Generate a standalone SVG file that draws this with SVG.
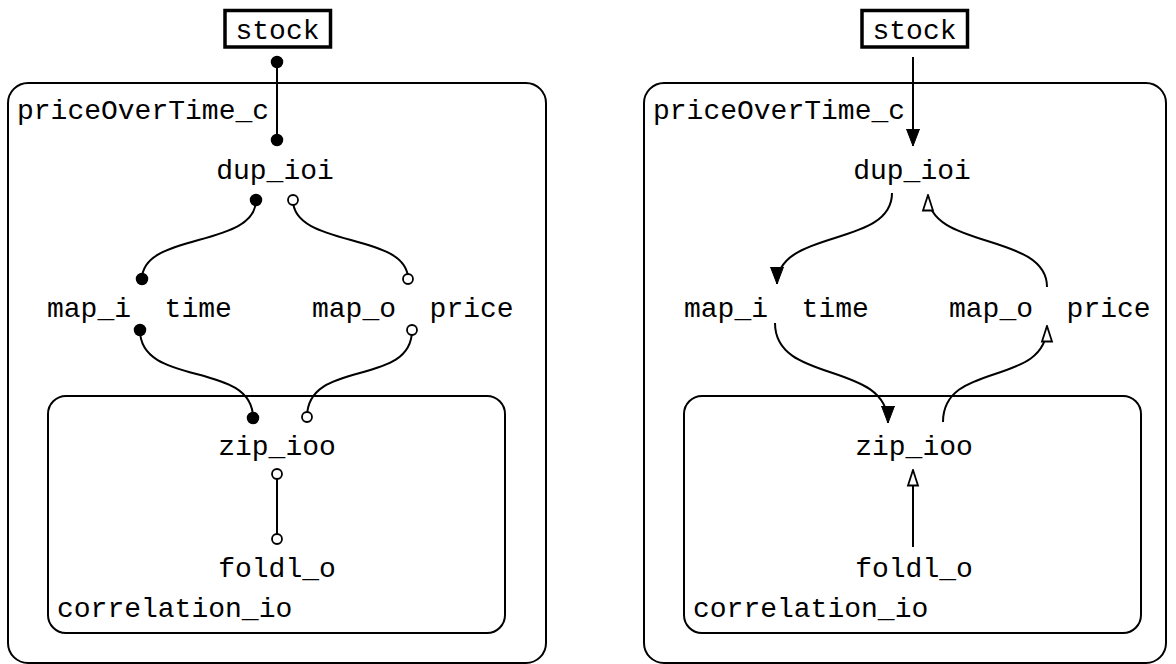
<svg xmlns="http://www.w3.org/2000/svg" width="1176" height="664" viewBox="0 0 1176 664">
<style>
text{font-family:"Liberation Mono","DejaVu Sans Mono",monospace;font-size:28px;fill:#000;white-space:pre}
.c{text-anchor:middle}
.box{fill:none;stroke:#000;stroke-width:2}
.stockbox{fill:#fff;stroke:#000;stroke-width:3.5}
.ln{fill:none;stroke:#000;stroke-width:2}
.pf{fill:#000;stroke:#000;stroke-width:1.5}
.po{fill:#fff;stroke:#000;stroke-width:1.8}
</style>
<defs>
<marker id="af" markerUnits="userSpaceOnUse" markerWidth="18" markerHeight="16" refX="17" refY="8" orient="auto" viewBox="0 0 18 16">
<path d="M0,1.5 L17,8 L0,14.5 Z" fill="#000" stroke="#000" stroke-width="1"/>
</marker>
<marker id="ao" markerUnits="userSpaceOnUse" markerWidth="18" markerHeight="16" refX="16.5" refY="8" orient="auto" viewBox="0 0 18 16">
<path d="M1,3 L16.5,8 L1,13 Z" fill="#fff" stroke="#000" stroke-width="1.8"/>
</marker>
</defs>

<!-- LEFT DIAGRAM -->
<g id="left-priceOverTime_c">
<rect class="box" x="8" y="83" width="538" height="580" rx="20" ry="20"/>
<text x="17" y="119">priceOverTime_c</text>
</g>
<g id="left-correlation_io">
<rect class="box" x="48" y="396" width="457" height="237" rx="18" ry="18"/>
<text x="57" y="617">correlation_io</text>
</g>
<g id="left-stock">
<rect class="stockbox" x="225" y="10.5" width="105.5" height="36.5"/>
<text class="c" x="277.5" y="39">stock</text>
</g>
<g id="left-dup_ioi"><text class="c" x="275" y="179">dup_ioi</text></g>
<g id="left-map_i"><text x="47" y="317">map_i  time</text></g>
<g id="left-map_o"><text x="312" y="317">map_o  price</text></g>
<g id="left-zip_ioo"><text class="c" x="277" y="455">zip_ioo</text></g>
<g id="left-foldl_o"><text class="c" x="277" y="577">foldl_o</text></g>

<g id="left-connectors">
<path class="ln" d="M277,63 L277,140"/>
<path class="ln" d="M256,200 C256,248 142,232 142,279"/>
<path class="ln" d="M293,200 C293,248 408,232 408,279"/>
<path class="ln" d="M140,330 C140,388 253,360 253,418"/>
<path class="ln" d="M412,330 C412,388 307,358 307,417"/>
<path class="ln" d="M277,474 L277,539"/>
<circle class="pf" cx="277" cy="62" r="5.5"/>
<circle class="pf" cx="277" cy="140" r="5.5"/>
<circle class="pf" cx="256" cy="200" r="5.5"/>
<circle class="po" cx="293" cy="200" r="5"/>
<circle class="pf" cx="142" cy="279" r="5.5"/>
<circle class="po" cx="408" cy="279" r="5"/>
<circle class="pf" cx="140" cy="330" r="5.5"/>
<circle class="po" cx="412" cy="330" r="5"/>
<circle class="pf" cx="253" cy="418" r="5.5"/>
<circle class="po" cx="307" cy="417" r="5"/>
<circle class="po" cx="277" cy="474" r="5"/>
<circle class="po" cx="277" cy="539" r="5"/>
</g>

<!-- RIGHT DIAGRAM -->
<g id="right-priceOverTime_c">
<rect class="box" x="644" y="83" width="522" height="580" rx="20" ry="20"/>
<text x="653" y="119">priceOverTime_c</text>
</g>
<g id="right-correlation_io">
<rect class="box" x="684" y="396" width="457" height="237" rx="18" ry="18"/>
<text x="693" y="617">correlation_io</text>
</g>
<g id="right-stock">
<rect class="stockbox" x="862" y="10.5" width="105.5" height="36.5"/>
<text class="c" x="914.5" y="39">stock</text>
</g>
<g id="right-dup_ioi"><text class="c" x="912" y="179">dup_ioi</text></g>
<g id="right-map_i"><text x="684" y="317">map_i  time</text></g>
<g id="right-map_o"><text x="949" y="317">map_o  price</text></g>
<g id="right-zip_ioo"><text class="c" x="914" y="455">zip_ioo</text></g>
<g id="right-foldl_o"><text class="c" x="914" y="577">foldl_o</text></g>

<g id="right-connectors">
<path class="ln" d="M913,57 L913,146" marker-end="url(#af)"/>
<path class="ln" d="M892,193 C892,248 777,228 777,284" marker-end="url(#af)"/>
<path class="ln" d="M1047,287 C1047,232 928,250 928,195" marker-end="url(#ao)"/>
<path class="ln" d="M775,323 C775,385 888,360 888,423" marker-end="url(#af)"/>
<path class="ln" d="M943,422 C943,360 1047,388 1047,326" marker-end="url(#ao)"/>
<path class="ln" d="M913,547 L913,470" marker-end="url(#ao)"/>
</g>
</svg>
